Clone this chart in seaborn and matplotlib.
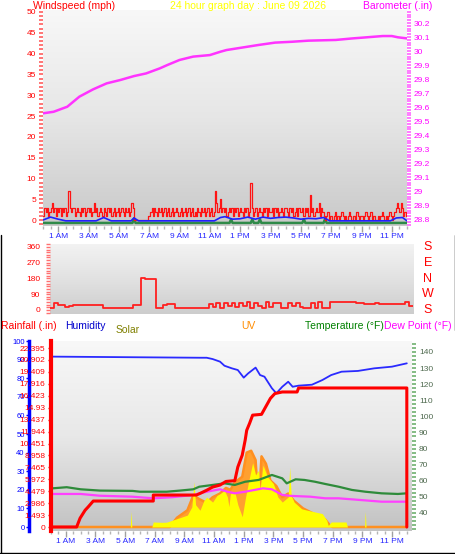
import numpy as np
import pandas as pd
import matplotlib
matplotlib.use("Agg")
import matplotlib.pyplot as plt
import seaborn as sns
from matplotlib.colors import LinearSegmentedColormap
from matplotlib.ticker import MultipleLocator
from matplotlib.lines import Line2D

# ---------------- data ----------------
hour_ticks = [1, 3, 5, 7, 9, 11, 13, 15, 17, 19, 21, 23]
hour_labels = ['1 AM', '3 AM', '5 AM', '7 AM', '9 AM', '11 AM',
               '1 PM', '3 PM', '5 PM', '7 PM', '9 PM', '11 PM']

baro_h = [0.0, 0.7, 1.6, 2.4, 3.3, 4.2, 5.1, 6.0, 6.8, 7.7, 8.2, 9.0, 9.9, 11.0,
          11.7, 12.1, 14.2, 15.3, 16.4, 17.5, 19.3, 20.4, 21.0, 22.4, 23.0, 23.4, 24.0]
baro_v = [29.555, 29.566, 29.602, 29.674, 29.726, 29.769, 29.793, 29.821, 29.84,
          29.876, 29.9, 29.936, 29.96, 29.971, 29.995, 30.007, 30.043, 30.06, 30.066,
          30.074, 30.079, 30.09, 30.095, 30.107, 30.107, 30.098, 30.09]
baro_tick_labels = ['28.8', '28.9', '29', '29.1', '29.2', '29.3', '29.4', '29.5', '29.6',
                    '29.7', '29.8', '29.9', '30', '30.1', '30.2']

# wind gust, 5-minute readings (mph), one row per hour
wind_gust = [1, 3, 2, 3, 1, 2, 3, 4, 2, 3, 1, 3,
             2, 3, 1, 3, 2, 3, 1, 2, 7, 3, 2, 3,
             3, 1, 2, 3, 2, 1, 3, 2, 3, 1, 2, 3,
             2, 3, 1, 2, 4, 2, 3, 1, 2, 3, 2, 1,
             3, 2, 1, 3, 2, 3, 1, 2, 3, 1, 2, 3,
             1, 2, 3, 2, 1, 3, 2, 3, 1, 2, 4, 3,
             0, 0, 0, 0, 0, 0, 0, 0, 0, 0, 0, 1,
             1, 2, 3, 1, 3, 2, 1, 3, 2, 3, 1, 2,
             3, 1, 2, 3, 1, 2, 3, 1, 2, 3, 2, 1,
             2, 3, 1, 2, 3, 1, 2, 3, 1, 2, 3, 1,
             2, 1, 3, 2, 1, 3, 2, 3, 1, 2, 3, 1,
             2, 3, 1, 2, 7, 4, 2, 3, 5, 2, 3, 2,
             3, 1, 2, 3, 2, 3, 1, 3, 2, 3, 1, 2,
             3, 2, 1, 3, 2, 3, 1, 2, 9, 3, 1, 2,
             3, 1, 2, 3, 2, 1, 3, 2, 3, 1, 3, 2,
             2, 3, 1, 3, 2, 3, 1, 2, 3, 2, 1, 3,
             3, 2, 1, 3, 2, 3, 1, 2, 3, 1, 3, 2,
             2, 3, 1, 3, 2, 3, 1, 6, 2, 3, 1, 2,
             3, 2, 4, 1, 3, 2, 1, 0, 1, 2, 0, 1,
             1, 0, 1, 2, 0, 1, 0, 1, 2, 1, 0, 1,
             0, 1, 2, 1, 0, 1, 1, 0, 2, 1, 0, 1,
             1, 0, 1, 2, 1, 0, 1, 2, 0, 1, 1, 0,
             0, 1, 0, 1, 2, 1, 0, 1, 0, 1, 2, 1,
             0, 1, 2, 3, 4, 3, 2, 4, 3, 1, 2, 1, 1]
wind_avg_h = [0, 0.5, 1.0, 1.5, 3.5, 4.0, 4.5, 5.8, 6.0, 6.3, 11.3, 11.7, 12.0, 12.5,
              13.0, 13.5, 14.0, 14.5, 15.0, 15.5, 16.0, 16.5, 17.0, 17.5, 18.0, 18.5,
              18.9, 22.9, 23.3, 23.7, 24.0]
wind_avg_v = [0.0, 0.7, 0.2, -0.2, -0.2, 0.6, -0.2, -0.2, 0.5, -0.2, -0.2, 0.6, 0.8,
              0.2, 0.3, 0.7, 0.2, 0.7, 0.4, 0.6, 0.7, 0.5, 0.2, 0.4, 0.3, 0.6, -0.2,
              -0.2, 0.5, 0.6, -0.2]
green_h = [0, 5.9, 6.0, 6.1, 12.3, 12.4, 12.5, 13.7, 13.8, 13.9, 14.2, 14.3, 14.4,
           17.1, 17.2, 17.3, 18.5, 18.6, 18.7, 24.0]
green_v = [-0.7, -0.7, 0.4, -0.7, -0.7, 0.2, -0.7, -0.7, 0.2, -0.7, -0.7, 0.2, -0.7,
           -0.7, 0.2, -0.7, -0.7, 0.3, -0.7, -0.7]

# wind direction, 15-minute readings (degrees)
wind_dir = [10, 42, 30, 28, 17, 20, 29, 30,
            28, 29, 30, 28, 30, 29, 12, 10,
            10, 10, 10, 10, 10, 10, 29, 30,
            181, 175, 175, 175, 10, 10, 30, 34,
            34, 10, 10, 10, 10, 10, 10, 10,
            10, 10, 35, 15, 40, 12, 38, 20,
            42, 15, 38, 20, 45, 12, 40, 25,
            10, 44, 15, 40, 40, 12, 10, 38,
            20, 42, 15, 10, 10, 40, 12, 45,
            10, 12, 47, 47, 47, 47, 47, 47,
            47, 40, 40, 34, 34, 34, 40, 34,
            34, 34, 34, 34, 34, 34, 45, 25, 25]
dir_ticks = [0, 90, 180, 270, 360]
dir_letters = ['S', 'W', 'N', 'E', 'S']

temp_h = [0.1, 1.06, 2.0, 3.3, 5.5, 6.0, 7.8, 8.7, 9.6, 10.0, 10.9, 11.7, 12.4, 13.1,
          14.0, 14.9, 15.6, 15.9, 16.5, 17.1, 17.8, 18.5, 19.4, 20.3, 21.2, 22.3, 23.4, 24.0]
temp_v = [55.3, 56.0, 54.7, 53.9, 53.7, 53.2, 53.2, 53.9, 54.7, 56.3, 57.4, 58.4, 57.4,
          59.4, 60.5, 63.6, 61.5, 58.4, 60.9, 60.5, 59.4, 58.0, 56.3, 54.3, 53.2, 52.2,
          51.8, 52.2]
dew_h = [0.1, 2.0, 3.3, 5.5, 6.9, 8.2, 9.6, 10.5, 11.4, 11.9, 12.4, 13.1, 14.3, 14.9,
         15.6, 16.2, 17.5, 18.5, 19.4, 20.8, 22.3, 24.0]
dew_v = [51.8, 51.8, 50.7, 50.1, 49.1, 49.8, 51.2, 53.2, 54.7, 53.2, 52.2, 53.2, 55.3,
         54.7, 51.2, 50.6, 50.1, 49.1, 49.1, 48.1, 47.0, 47.0]
temp_ticks = [40, 50, 60, 70, 80, 90, 100, 110, 120, 130, 140]

hum_h = [0.1, 10.05, 10.5, 10.9, 11.4, 11.7, 12.2, 12.6, 13.0, 13.3, 13.8, 14.1, 14.4,
         14.9, 15.2, 15.6, 16.0, 16.3, 16.7, 17.6, 18.3, 18.9, 19.6, 20.7, 21.8, 23.0, 24.0]
hum_v = [91.6, 91.0, 91.0, 90.3, 88.9, 86.7, 85.3, 84.4, 80.3, 82.6, 85.7, 81.7, 80.8,
         74.6, 71.9, 75.4, 78.1, 75.4, 76.0, 76.5, 79.0, 81.7, 83.5, 83.9, 85.3, 86.2, 88.0]
hum_ticks = [0, 10, 20, 30, 40, 50, 60, 70, 80, 90, 100]

rain_h = [0.1, 1.73, 1.96, 2.3, 2.5, 2.85, 6.9, 6.9, 9.8, 10.05, 10.5, 10.9, 11.4, 11.8,
          12.4, 12.6, 12.9, 13.1, 13.2, 13.4, 13.6, 14.2, 14.5, 14.8, 15.1, 15.6, 16.6,
          16.7, 24.0, 24.0]
rain_v = [0, 0, 1.1, 2.1, 2.5, 3.25, 3.25, 4.0, 4.0, 4.2, 4.6, 5.0, 5.25, 5.7, 5.8, 7.5,
          9.0, 10.9, 12.1, 13.0, 14.0, 14.1, 15.1, 16.1, 16.7, 16.9, 16.9, 17.4, 17.4, 0]
rain_tick_labels = ['0', '1.493', '2.986', '4.479', '5.972', '7.465', '8.958', '10.451',
                    '11.944', '13.437', '14.93', '16.423', '17.916', '19.409', '20.902',
                    '22.395']

solar_h = [0.1, 5.35, 5.4, 5.45, 6.8, 6.9, 7.5, 7.8, 8.2, 8.7, 9.2, 9.5, 9.65, 9.75,
           10.05, 10.3, 10.5, 10.9, 11.2, 11.4, 11.7, 11.9, 12.0, 12.1, 12.4, 12.6, 12.9,
           13.1, 13.3, 13.6, 13.8, 14.0, 14.1, 14.3, 14.6, 15.0, 15.3, 15.6, 16.0, 16.1,
           16.2, 16.4, 16.9, 17.3, 17.8, 18.3, 18.6, 18.7, 18.9, 19.9, 20.0, 21.15, 21.2,
           21.25, 24.0]
solar_v = [0, 0, 84, 0, 0, 27, 25, 26, 37, 50, 64, 108, 243, 120, 90, 140, 161, 134, 170,
           179, 197, 161, 109, 179, 188, 120, 55, 150, 233, 345, 280, 305, 200, 332, 270,
           233, 161, 134, 161, 322, 170, 134, 98, 90, 81, 72, 36, 8, 27, 27, 0, 0, 84, 0, 0]
uv_h = [0.1, 8.0, 8.5, 9.2, 9.6, 10.0, 10.5, 10.9, 11.4, 11.8, 12.1, 12.4, 12.9, 13.2,
        13.5, 13.8, 14.0, 14.2, 14.5, 14.8, 15.2, 15.6, 16.0, 16.4, 17.0, 17.5, 18.0,
        18.5, 18.8, 19.0, 24.0]
uv_v = [0, 0, 0.5, 0.9, 1.7, 1.5, 1.3, 1.6, 1.8, 2.1, 2.0, 2.4, 2.7, 4.0, 4.1, 3.6, 1.1,
        3.8, 3.4, 2.5, 2.2, 1.6, 1.8, 1.4, 1.0, 0.8, 0.6, 0.4, 0.1, 0, 0]

# ---------------- figure ----------------
sns.set_theme(style="white")
plt.rcParams['font.family'] = ['Liberation Sans', 'DejaVu Sans']
W, H = 455, 554
fig = plt.figure(figsize=(W / 100, H / 100), dpi=100)
fig.patch.set_facecolor('white')


def rect(l, t, r, b):
    return [l / W, 1 - b / H, (r - l) / W, (b - t) / H]


def fx(x):
    return x / W


def fy(y):
    return 1 - y / H


def background(r, colors):
    bg = fig.add_axes(r)
    grad = np.linspace(0, 1, 256).reshape(-1, 1)
    cmap = LinearSegmentedColormap.from_list('g', colors)
    bg.imshow(grad, aspect='auto', cmap=cmap, extent=[0, 1, 0, 1], interpolation='bilinear')
    bg.axis('off')
    return bg


def overlay(r):
    a = fig.add_axes(r)
    a.patch.set_alpha(0)
    for s in a.spines.values():
        s.set_visible(False)
    a.grid(False)
    return a


def lp(ax, x, y, **kw):
    sns.lineplot(x=x, y=y, ax=ax, estimator=None, sort=False, legend=False, **kw)


def xaxis_hours(ax, xmax, labels=True):
    ax.set_xlim(0, xmax)
    ax.set_xticks(hour_ticks)
    ax.xaxis.set_minor_locator(MultipleLocator(0.5))
    if labels:
        ax.set_xticklabels(hour_labels, color='#2828ff', fontsize=6)
    else:
        ax.set_xticklabels([])
    ax.tick_params(axis='x', which='major', bottom=True, length=4, width=1,
                   color='#a0a0a0', pad=1)
    ax.tick_params(axis='x', which='minor', bottom=True, length=2.5, width=1,
                   color='#b4b4b4')


# ----- Panel 1: windspeed / barometer -----
r1 = rect(43, 10, 407, 226)
background(r1, ['#f8f8f8', '#e6e6e6', '#c9c9c9'])
ax1b = overlay(r1)
ax1 = overlay(r1)

lp(ax1b, baro_h, baro_v, color='#ff33ff', linewidth=1.8)
ax1b.set_ylim(28.75, 30.293)
ax1b.set_xlim(0, 24)
ax1b.set_xticks([])
ax1b.yaxis.tick_right()
baro_pos = [float(s) for s in baro_tick_labels]
ax1b.set_yticks(baro_pos)
ax1b.set_yticklabels(baro_tick_labels, color='#ff00ff', fontsize=6)
ax1b.yaxis.set_minor_locator(MultipleLocator(0.02))
ax1b.tick_params(axis='y', which='both', right=True, left=False, length=3, width=1.2,
                 color='#ff66ff', pad=2)

wind_t = np.arange(len(wind_gust)) / 12.0
lp(ax1, green_h, green_v, color='#2f8a48', linewidth=1.8)
lp(ax1, wind_t, wind_gust, color='#ff1414', linewidth=0.9, drawstyle='steps-post')
lp(ax1, wind_avg_h, wind_avg_v, color='#2020ff', linewidth=1.2)
ax1.set_ylim(-1.44, 50.48)
ax1.set_yticks(list(range(0, 51, 5)))
ax1.set_yticklabels([str(v) for v in range(0, 51, 5)], color='#ff0000', fontsize=6)
ax1.yaxis.set_minor_locator(MultipleLocator(1))
ax1.tick_params(axis='y', which='both', left=True, length=3, width=1.1,
                color='#ff5050', pad=2)
xaxis_hours(ax1, 24)

fig.text(fx(33), fy(6), 'Windspeed (mph)', color='#ff0000', fontsize=7.5,
         ha='left', va='center')
fig.text(fx(248), fy(6), '24 hour graph day : June 09 2026', color='#ffff00',
         fontsize=7.5, ha='center', va='center')
fig.text(fx(363), fy(6), 'Barometer (.in)', color='#ff00ff', fontsize=7.5,
         ha='left', va='center')

# ----- Panel 2: wind direction -----
r2 = rect(50, 244, 413, 314)
background(r2, ['#f3f3f3', '#e2e2e2', '#cdcdcd'])
ax2 = overlay(r2)
dir_t = np.arange(len(wind_dir)) * 0.25
lp(ax2, dir_t, wind_dir, color='#ff2020', linewidth=1.3, drawstyle='steps-post')
ax2.set_xlim(0, 24)
ax2.set_xticks([])
ax2.set_ylim(-23, 377)
ax2.set_yticks(dir_ticks)
ax2.set_yticklabels([str(v) for v in dir_ticks], color='#ff0000', fontsize=6)
ax2.yaxis.set_minor_locator(MultipleLocator(15))
ax2.tick_params(axis='y', which='both', left=True, length=3, width=1,
                color='#ff7070', pad=4)
for v, letter in zip(dir_ticks, dir_letters):
    ypix = 310 - v * 0.175
    fig.text(fx(428), fy(ypix), letter, color='#ff0000', fontsize=9,
             ha='center', va='center')

# ----- Panel 3: rain / humidity / solar / uv / temperature -----
r3 = rect(51, 341, 412, 531)
XMAX3 = 24.35
background(r3, ['#f8f8f8', '#e8e8e8', '#c2c2c2'])

ax_u = overlay(r3)
ax_u.fill_between(uv_h, uv_v, 0, color='#ffa030', linewidth=0)
lp(ax_u, uv_h, uv_v, color='#ff9020', linewidth=1.8)
ax_u.set_ylim(-0.215, 10)
ax_u.set_xlim(0, XMAX3)
ax_u.axis('off')

ax_s = overlay(r3)
ax_s.fill_between(solar_h, solar_v, 0, color='#ffff00', linewidth=0)
ax_s.set_ylim(-21.5, 1000)
ax_s.set_xlim(0, XMAX3)
ax_s.axis('off')

ax_t = overlay(r3)
lp(ax_t, temp_h, temp_v, color='#2e8b3a', linewidth=1.6)
lp(ax_t, dew_h, dew_v, color='#ff40ff', linewidth=1.6)
ax_t.set_xlim(0, XMAX3)
ax_t.set_xticks([])
ax_t.set_ylim(28.8, 146.8)
ax_t.yaxis.tick_right()
ax_t.set_yticks(temp_ticks)
ax_t.set_yticklabels([str(v) for v in temp_ticks], color='#4f6a4f', fontsize=6)
ax_t.yaxis.set_minor_locator(MultipleLocator(2.5))
ax_t.tick_params(axis='y', which='both', right=True, left=False, length=3, width=1.2,
                 color='#70b070', pad=2)

ax_h = overlay(r3)
lp(ax_h, hum_h, hum_v, color='#2a2aff', linewidth=1.3)
ax_h.set_xlim(0, XMAX3)
ax_h.set_xticks([])
ax_h.set_ylim(-2.15, 100)
ax_h.spines['left'].set_visible(True)
ax_h.spines['left'].set_position(('outward', 16))
ax_h.spines['left'].set_color('#0000ff')
ax_h.spines['left'].set_linewidth(2.5)
ax_h.set_yticks(hum_ticks)
ax_h.set_yticklabels([str(v) for v in hum_ticks], color='#0000ff', fontsize=5.5)
ax_h.tick_params(axis='y', which='major', left=True, length=2, width=1,
                 color='#0000ff', pad=1)

ax_r = overlay(r3)
lp(ax_r, rain_h, rain_v, color='#ff0000', linewidth=2.2)
ax_r.set_ylim(-0.5, 23.28)
rain_pos = [float(s) for s in rain_tick_labels]
ax_r.set_yticks(rain_pos)
ax_r.set_yticklabels(rain_tick_labels, color='#ff0000', fontsize=6)
ax_r.spines['left'].set_visible(True)
ax_r.spines['left'].set_color('#ff0000')
ax_r.spines['left'].set_linewidth(3)
ax_r.tick_params(axis='y', which='major', left=True, length=2, width=1,
                 color='#ff0000', pad=2)
xaxis_hours(ax_r, XMAX3)

fig.text(fx(1), fy(326), 'Rainfall (.in)', color='#ff0000', fontsize=7.5,
         ha='left', va='center')
fig.text(fx(65), fy(326), 'Humidity', color='#0000cc', fontsize=7.5,
         ha='left', va='center')
fig.text(fx(116), fy(330), 'Solar', color='#808000', fontsize=7.5,
         ha='left', va='center')
fig.text(fx(241), fy(326), 'UV', color='#ff8c00', fontsize=7.5,
         ha='left', va='center')
fig.text(fx(305), fy(326), 'Temperature (°F)', color='#008000', fontsize=7.5,
         ha='left', va='center')
fig.text(fx(384), fy(326), 'Dew Point (°F)', color='#ff00ff', fontsize=7.5,
         ha='left', va='center')

# frame lines
for (x0, y0, x1, y1) in [(0.5, 235, 0.5, 553), (0, 552.5, 455, 552.5),
                         (454.5, 235, 454.5, 330)]:
    fig.add_artist(Line2D([fx(x0), fx(x1)], [fy(y0), fy(y1)],
                          transform=fig.transFigure, color='black', linewidth=1))

fig.savefig('out.png', dpi=100)
